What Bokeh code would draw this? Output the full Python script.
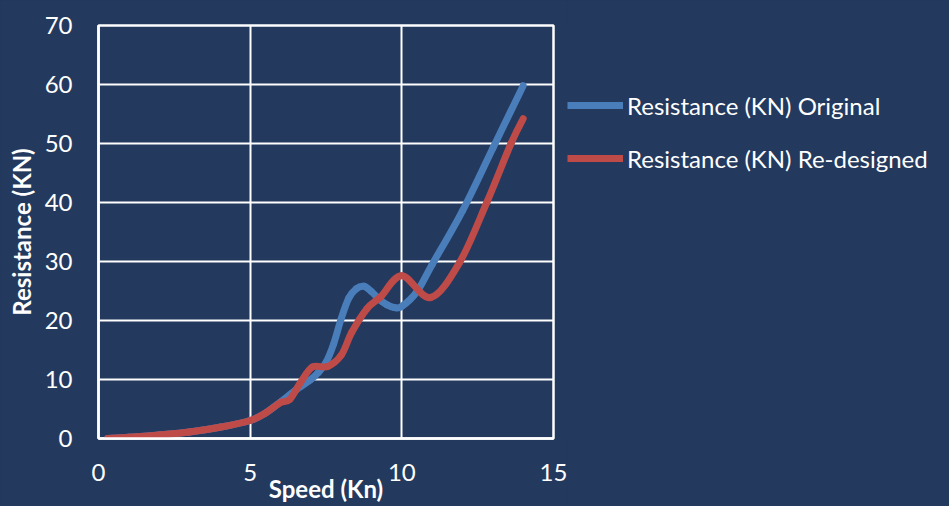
from bokeh.plotting import figure
from bokeh.layouts import row
from bokeh.models import Range1d, FixedTicker, Legend, LegendItem, ColumnDataSource
from bokeh.embed import file_html
from bokeh.resources import INLINE

# data
speed_orig = [0.3, 1, 2, 3, 4, 5, 5.5, 6, 6.5, 7, 7.25, 7.5, 7.75, 8, 8.25, 8.5, 8.75, 9, 9.25, 9.5, 9.75, 10, 10.5, 11, 12, 13, 14]
res_orig = [0.0, 0.2, 0.6, 1.1, 1.9, 3.05, 4.3, 6.2, 8.2, 10.0, 11.2, 12.9, 16.0, 20.3, 23.8, 25.4, 25.8, 24.9, 23.6, 22.7, 22.2, 22.4, 24.9, 29.5, 38.6, 49.2, 59.8]

speed_new = [0.3, 1, 2, 3, 4, 5, 5.5, 6.0, 6.3, 6.65, 7.05, 7.55, 8.0, 8.35, 8.85, 9.3, 10.0, 10.95, 11.9, 12.8, 13.6, 14]
res_new = [0.0, 0.2, 0.6, 1.1, 1.9, 3.05, 4.3, 6.1, 6.6, 9.4, 12.1, 12.2, 14.1, 18.0, 22.0, 24.0, 27.6, 23.9, 29.8, 40.0, 50.0, 54.2]

series_labels = ["Resistance (KN) Original", "Resistance (KN) Re-designed"]
x_ticks = [0, 5, 10, 15]
y_ticks = [0, 10, 20, 30, 40, 50, 60, 70]

BG = "#233a5e"
FONT = "Lato"
colors = ["#4a7ebb", "#be4b48"]


def bezier_source(xs, ys):
    # Excel-style smoothed line: Catmull-Rom segments as cubic Bezier curves
    n = len(xs)
    d = dict(x0=[], y0=[], x1=[], y1=[], cx0=[], cy0=[], cx1=[], cy1=[])
    for i in range(n - 1):
        xa, ya = (xs[i - 1], ys[i - 1]) if i > 0 else (xs[i], ys[i])
        xb, yb = (xs[i + 2], ys[i + 2]) if i + 2 < n else (xs[i + 1], ys[i + 1])
        d["x0"].append(xs[i]); d["y0"].append(ys[i])
        d["x1"].append(xs[i + 1]); d["y1"].append(ys[i + 1])
        d["cx0"].append(xs[i] + (xs[i + 1] - xa) / 6.0)
        d["cy0"].append(ys[i] + (ys[i + 1] - ya) / 6.0)
        d["cx1"].append(xs[i + 1] - (xb - xs[i]) / 6.0)
        d["cy1"].append(ys[i + 1] - (yb - ys[i]) / 6.0)
    return ColumnDataSource(d)


sources = [bezier_source(speed_orig, res_orig), bezier_source(speed_new, res_new)]
BZ = dict(x0="x0", y0="y0", x1="x1", y1="y1", cx0="cx0", cy0="cy0", cx1="cx1", cy1="cy1")

p = figure(width=567, height=506, output_backend="svg", toolbar_location=None,
           x_range=Range1d(0, 15), y_range=Range1d(0, 70),
           min_border_left=98, min_border_right=14, min_border_top=25, min_border_bottom=68)

p.background_fill_color = BG
p.border_fill_color = BG
p.outline_line_color = "white"
p.outline_line_width = 2.5

for ax in (p.xaxis[0], p.yaxis[0]):
    ax.axis_line_color = "white"
    ax.axis_line_width = 2.5
    ax.major_tick_line_color = None
    ax.minor_tick_line_color = None
    ax.major_label_text_color = "white"
    ax.major_label_text_font = FONT
    ax.major_label_text_font_size = "24px"
    ax.axis_label_text_color = "white"
    ax.axis_label_text_font = FONT
    ax.axis_label_text_font_style = "bold"
    ax.axis_label_text_font_size = "24px"

p.xaxis.ticker = FixedTicker(ticks=x_ticks)
p.yaxis.ticker = FixedTicker(ticks=y_ticks)
p.xaxis.axis_label = "Speed (Kn)"
p.yaxis.axis_label = "Resistance (KN)"
p.xaxis.major_label_standoff = 19
p.yaxis.major_label_standoff = 20
p.xaxis.axis_label_standoff = -10
p.yaxis.axis_label_standoff = 6

p.grid.grid_line_color = "white"
p.grid.grid_line_width = 2
p.grid.grid_line_alpha = 1.0

for src, c in zip(sources, colors):
    p.bezier(source=src, line_color=c, line_width=7, line_cap="round", **BZ)

# legend panel to the right of the plot area
q = figure(width=382, height=506, output_backend="svg", toolbar_location=None,
           x_range=Range1d(0, 1), y_range=Range1d(0, 1),
           x_axis_location=None, y_axis_location=None, min_border=0)
q.background_fill_color = BG
q.border_fill_color = BG
q.outline_line_color = None
q.grid.visible = False
q.styles = {"background-color": BG}
legend_renderers = []
for src, c in zip(sources, colors):
    r = q.bezier(source=src, line_color=c, line_width=7, visible=False, **BZ)
    legend_renderers.append(r)

legend = Legend(items=[LegendItem(label=series_labels[i], renderers=[legend_renderers[i]], index=0) for i in range(2)],
                location=(0, 265), orientation="vertical",
                background_fill_alpha=0, border_line_color=None,
                inactive_fill_alpha=0,
                label_text_color="white", label_text_font=FONT, label_text_font_size="24px",
                glyph_width=56, glyph_height=30, label_height=30, label_standoff=4,
                spacing=23, padding=0, margin=0)
q.add_layout(legend, "center")

p.styles = {"background-color": BG}
layout = row(p, q, spacing=0, styles={"background-color": BG})
open("out.html", "w").write(file_html(layout, INLINE))
